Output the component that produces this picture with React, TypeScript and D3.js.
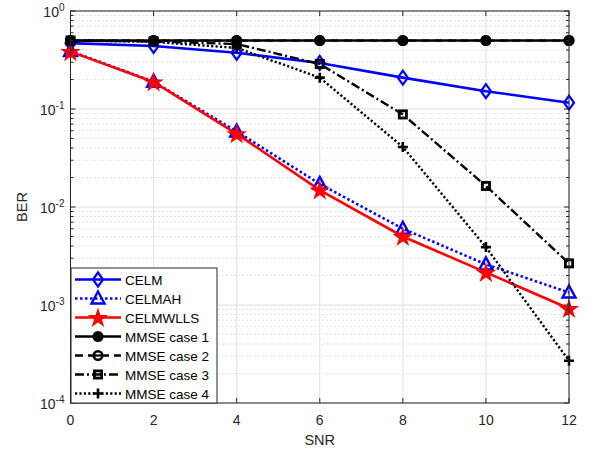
import React, { useRef, useEffect } from 'react';
import * as d3 from 'd3';

const snr = [0, 2, 4, 6, 8, 10, 12];
const celm = [0.47, 0.44, 0.375, 0.295, 0.209, 0.152, 0.116];
const celmah = [0.39, 0.19, 0.059, 0.0172, 0.006, 0.0026, 0.00134];
const celmwlls = [0.385, 0.189, 0.0558, 0.0149, 0.005, 0.00215, 0.00092];
const mmse1 = [0.5, 0.5, 0.5, 0.5, 0.5, 0.5, 0.5];
const mmse2 = [0.499, 0.499, 0.499, 0.499, 0.499, 0.499, 0.499];
const mmse3 = [0.5, 0.49, 0.46, 0.288, 0.088, 0.0164, 0.00266];
const mmse4 = [0.5, 0.485, 0.42, 0.209, 0.041, 0.0039, 0.00027];

const xTicks = [0, 2, 4, 6, 8, 10, 12];
const yExponents = [0, -1, -2, -3, -4];

type Series = { name: string; values: number[]; color: string; dash: string; marker: string; width: number };

const series: Series[] = [
  { name: 'CELM', values: celm, color: '#0000ff', dash: '', marker: 'diamond', width: 2.6 },
  { name: 'CELMAH', values: celmah, color: '#0000ff', dash: '2.5,2.5', marker: 'triangle', width: 2.6 },
  { name: 'CELMWLLS', values: celmwlls, color: '#ff0000', dash: '', marker: 'star', width: 2.6 },
  { name: 'MMSE case 1', values: mmse1, color: '#000000', dash: '', marker: 'circle', width: 2.4 },
  { name: 'MMSE case 2', values: mmse2, color: '#000000', dash: '8,5', marker: 'circleline', width: 2.4 },
  { name: 'MMSE case 3', values: mmse3, color: '#000000', dash: '9,3,2,3', marker: 'square', width: 2.4 },
  { name: 'MMSE case 4', values: mmse4, color: '#000000', dash: '2.2,2.2', marker: 'plus', width: 2.4 },
];

const W = 590;
const H = 453;
const margin = { top: 11, right: 21, bottom: 50, left: 70.5 };

function drawMarker(g: any, kind: string, x: number, y: number, color: string) {
  if (kind === 'diamond') {
    g.append('path').attr('d', `M${x},${y - 7}L${x + 5},${y}L${x},${y + 7}L${x - 5},${y}Z`)
      .attr('fill', 'none').attr('stroke', color).attr('stroke-width', 2.2);
  } else if (kind === 'triangle') {
    g.append('path').attr('d', `M${x},${y - 7}L${x + 6.5},${y + 5}L${x - 6.5},${y + 5}Z`)
      .attr('fill', 'none').attr('stroke', color).attr('stroke-width', 2.4);
  } else if (kind === 'star') {
    const sym = d3.symbol().type(d3.symbolStar).size(75);
    g.append('path').attr('d', sym()).attr('transform', `translate(${x},${y + 0.8})`)
      .attr('fill', color).attr('stroke', color).attr('stroke-width', 1.6);
  } else if (kind === 'circle') {
    g.append('circle').attr('cx', x).attr('cy', y).attr('r', 5.5).attr('fill', color);
  } else if (kind === 'circleline') {
    g.append('circle').attr('cx', x).attr('cy', y).attr('r', 4.3)
      .attr('fill', 'none').attr('stroke', color).attr('stroke-width', 2.4);
    g.append('line').attr('x1', x - 4).attr('x2', x + 4).attr('y1', y).attr('y2', y)
      .attr('stroke', color).attr('stroke-width', 2.2);
  } else if (kind === 'square') {
    g.append('rect').attr('x', x - 3.6).attr('y', y - 3.6).attr('width', 7.2).attr('height', 7.2)
      .attr('fill', 'none').attr('stroke', color).attr('stroke-width', 2.8);
  } else if (kind === 'plus') {
    g.append('path').attr('d', `M${x - 5},${y}L${x + 5},${y}M${x},${y - 5}L${x},${y + 5}`)
      .attr('stroke', color).attr('stroke-width', 2.6);
  }
}

const BerChart = () => {
  const svgRef = useRef<SVGSVGElement>(null);

  useEffect(() => {
    const svg = d3.select(svgRef.current);
    svg.selectAll('*').remove();

    const innerW = W - margin.left - margin.right;
    const innerH = H - margin.top - margin.bottom;

    const x = d3.scaleLinear().domain([0, 12]).range([margin.left, margin.left + innerW]);
    const y = d3.scaleLog().domain([1e-4, 1]).range([margin.top + innerH, margin.top]);

    svg.append('rect').attr('x', margin.left).attr('y', margin.top)
      .attr('width', innerW).attr('height', innerH).attr('fill', '#fff');

    // minor grid
    const minor: number[] = [];
    yExponents.slice(1).forEach(e => {
      for (let k = 2; k <= 9; k++) minor.push(k * Math.pow(10, e));
    });
    const grid = svg.append('g');
    grid.selectAll('.minor').data(minor).enter().append('line')
      .attr('x1', margin.left).attr('x2', margin.left + innerW)
      .attr('y1', d => y(d)).attr('y2', d => y(d))
      .attr('stroke', '#c4c4c4').attr('stroke-width', 0.9).attr('stroke-dasharray', '1,3');
    grid.selectAll('.majy').data(yExponents).enter().append('line')
      .attr('x1', margin.left).attr('x2', margin.left + innerW)
      .attr('y1', d => y(Math.pow(10, d))).attr('y2', d => y(Math.pow(10, d)))
      .attr('stroke', '#e0e0e0').attr('stroke-width', 1);
    grid.selectAll('.majx').data(xTicks).enter().append('line')
      .attr('x1', d => x(d)).attr('x2', d => x(d))
      .attr('y1', margin.top).attr('y2', margin.top + innerH)
      .attr('stroke', '#e0e0e0').attr('stroke-width', 1);

    // series
    const line = d3.line<number>().x((d, i) => x(snr[i])).y(d => y(d));
    series.forEach(s => {
      const g = svg.append('g');
      g.append('path').datum(s.values).attr('d', line)
        .attr('fill', 'none').attr('stroke', s.color).attr('stroke-width', s.width)
        .attr('stroke-dasharray', s.dash || null);
      s.values.forEach((v, i) => drawMarker(g, s.marker, x(snr[i]), y(v), s.color));
    });

    // axes box and ticks
    const ax = svg.append('g');
    ax.append('rect').attr('x', margin.left).attr('y', margin.top)
      .attr('width', innerW).attr('height', innerH)
      .attr('fill', 'none').attr('stroke', '#262626').attr('stroke-width', 1);
    xTicks.forEach(t => {
      ax.append('line').attr('x1', x(t)).attr('x2', x(t))
        .attr('y1', margin.top + innerH).attr('y2', margin.top + innerH - 5)
        .attr('stroke', '#262626');
      ax.append('line').attr('x1', x(t)).attr('x2', x(t))
        .attr('y1', margin.top).attr('y2', margin.top + 5).attr('stroke', '#262626');
      ax.append('text').attr('x', x(t)).attr('y', margin.top + innerH + 22)
        .attr('text-anchor', 'middle').attr('font-size', 14).attr('fill', '#262626')
        .text(t);
    });
    yExponents.forEach(e => {
      const yy = y(Math.pow(10, e));
      [margin.left, margin.left + innerW].forEach((xx, j) => {
        ax.append('line').attr('x1', xx).attr('x2', j === 0 ? xx + 5 : xx - 5)
          .attr('y1', yy).attr('y2', yy).attr('stroke', '#262626');
      });
      const t = ax.append('text').attr('x', margin.left - 6).attr('y', yy + 6)
        .attr('text-anchor', 'end').attr('font-size', 14).attr('fill', '#262626');
      t.append('tspan').text('10');
      t.append('tspan').attr('dy', -6).attr('font-size', 10).text(String(e));
    });
    minor.forEach(m => {
      const yy = y(m);
      [margin.left, margin.left + innerW].forEach((xx, j) => {
        ax.append('line').attr('x1', xx).attr('x2', j === 0 ? xx + 3 : xx - 3)
          .attr('y1', yy).attr('y2', yy).attr('stroke', '#262626');
      });
    });

    svg.append('text').attr('x', margin.left + innerW / 2).attr('y', 445)
      .attr('text-anchor', 'middle').attr('font-size', 14.5).attr('fill', '#262626').text('SNR');
    svg.append('text').attr('transform', `translate(27,${margin.top + innerH / 2}) rotate(-90)`)
      .attr('text-anchor', 'middle').attr('font-size', 14.5).attr('fill', '#262626').text('BER');

    // legend
    const lg = svg.append('g');
    lg.append('rect').attr('x', 71).attr('y', 268).attr('width', 146).attr('height', 135)
      .attr('fill', '#fff').attr('stroke', '#262626').attr('stroke-width', 1);
    series.forEach((s, i) => {
      const ly = 279.5 + i * 19;
      lg.append('line').attr('x1', 75).attr('x2', 121).attr('y1', ly).attr('y2', ly)
        .attr('stroke', s.color).attr('stroke-width', s.width)
        .attr('stroke-dasharray', s.dash || null);
      drawMarker(lg, s.marker, 98, ly, s.color);
      lg.append('text').attr('x', 125).attr('y', ly + 5).attr('font-size', 13.5)
        .attr('fill', '#000').text(s.name);
    });
  }, []);

  return (
    <svg ref={svgRef} width={W} height={H}
      style={{ position: 'absolute', left: 0, top: 0, fontFamily: '"Liberation Sans", Arial, sans-serif', background: '#fff' }} />
  );
};

export default function App() {
  return <BerChart />;
}
